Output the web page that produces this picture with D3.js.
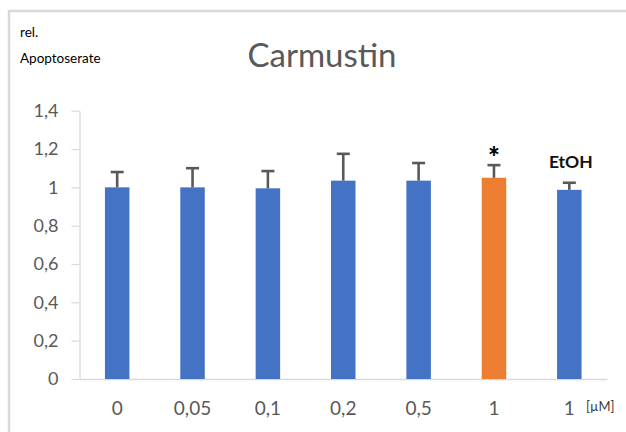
<!DOCTYPE html>
<html>
<head>
<meta charset="utf-8">
<script src="https://cdn.jsdelivr.net/npm/d3@7"></script>
<style>
  html, body { margin: 0; padding: 0; background: #ffffff; }
  svg { display: block; }
</style>
</head>
<body>
<svg id="chart" width="626" height="432"></svg>
<script>
// ---- data ----
const categories = ["0", "0,05", "0,1", "0,2", "0,5", "1", "1"];
const values     = [1.00, 1.00, 0.995, 1.035, 1.035, 1.05, 0.987];
const errors     = [0.08, 0.10, 0.09, 0.14, 0.092, 0.066, 0.037];
const highlight  = [false, false, false, false, false, true, false];
const yTicks     = [0, 0.2, 0.4, 0.6, 0.8, 1.0, 1.2, 1.4];
const title      = "Carmustin";
const unitLabel  = "[µM]";
const star       = { index: 5, text: "*" };
const ethanol    = { index: 6, text: "EtOH" };

// ---- layout ----
const svg = d3.select("#chart");
const font = "Lato, 'Open Sans', sans-serif";
const grey = "#595959";

// outer frame (cut off at right/bottom like the screenshot)
svg.append("rect")
  .attr("x", 9).attr("y", 11).attr("width", 700).attr("height", 500)
  .attr("fill", "none").attr("stroke", "#d9d9d9").attr("stroke-width", 2.5);

const x = d3.scaleBand()
  .domain(d3.range(categories.length))
  .range([79.5, 607])
  .paddingInner(0.675)
  .paddingOuter(0.3375);

const y = d3.scaleLinear().domain([0, 1.4]).range([379, 110.7]);

const locale = d3.formatLocale({ decimal: ",", thousands: ".", grouping: [3], currency: ["", "€"] });
const fmt = locale.format(".1~f");

// y axis
const yAxis = svg.append("g")
  .attr("transform", "translate(79.5,0)")
  .call(d3.axisLeft(y).tickValues(yTicks).tickFormat(fmt).tickSizeInner(8).tickSizeOuter(0).tickPadding(13));
yAxis.select(".domain").attr("stroke", "#d9d9d9").attr("stroke-width", 1.2);
yAxis.selectAll(".tick line").attr("stroke", "#d9d9d9").attr("stroke-width", 1.2);
yAxis.selectAll(".tick text")
  .attr("fill", grey).style("font-family", font).style("font-size", "18px");

// x axis
const xAxis = svg.append("g")
  .attr("transform", "translate(0,379)")
  .call(d3.axisBottom(x).tickFormat(i => categories[i]).tickSize(0).tickPadding(23));
xAxis.select(".domain").attr("stroke", "#d9d9d9").attr("stroke-width", 1.5);
xAxis.selectAll(".tick text")
  .attr("fill", grey).style("font-family", font).style("font-size", "19px");

// bars
svg.append("g").selectAll("rect")
  .data(values)
  .join("rect")
  .attr("x", (d, i) => x(i))
  .attr("y", d => y(d))
  .attr("width", x.bandwidth())
  .attr("height", d => y(0) - y(d))
  .attr("fill", (d, i) => highlight[i] ? "#ED7D31" : "#4472C4");

// error bars (upper only)
const eb = svg.append("g").attr("stroke", grey).attr("stroke-width", 2.6).attr("fill", "none");
values.forEach((v, i) => {
  const cx = x(i) + x.bandwidth() / 2;
  eb.append("line").attr("x1", cx).attr("x2", cx).attr("y1", y(v)).attr("y2", y(v + errors[i]));
  eb.append("line").attr("x1", cx - 6.5).attr("x2", cx + 6.5)
    .attr("y1", y(v + errors[i])).attr("y2", y(v + errors[i]));
});

// annotations
const sx = x(star.index) + x.bandwidth() / 2;
svg.append("text")
  .attr("x", sx).attr("y", y(values[star.index] + errors[star.index]) + 2)
  .attr("text-anchor", "middle")
  .style("font-family", font).style("font-weight", "900").style("font-size", "28px")
  .attr("fill", "#000").text(star.text);

const ex = x(ethanol.index) + x.bandwidth() / 2 + 1.5;
svg.append("text")
  .attr("x", ex).attr("y", 168)
  .attr("text-anchor", "middle")
  .style("font-family", font).style("font-weight", "bold").style("font-size", "17.5px")
  .attr("fill", "#111").text(ethanol.text);

// unit label
svg.append("text")
  .attr("x", 586).attr("y", 411)
  .style("font-family", "'Liberation Sans Narrow', 'Arial Narrow', " + font).style("font-size", "13px")
  .attr("fill", "#404040").text(unitLabel);

// title
svg.append("text")
  .attr("x", 322).attr("y", 67)
  .attr("text-anchor", "middle")
  .style("font-family", font).style("font-size", "33px")
  .attr("fill", grey).text(title);

// y axis title (two lines)
svg.append("text")
  .attr("x", 20).attr("y", 37)
  .style("font-family", "'Liberation Sans Narrow', 'Arial Narrow', " + font).style("font-size", "13.5px")
  .attr("fill", "#000").text("rel.");
svg.append("text")
  .attr("x", 20).attr("y", 63)
  .style("font-family", "'Liberation Sans Narrow', 'Arial Narrow', " + font).style("font-size", "13.5px")
  .attr("fill", "#000").text("Apoptoserate");
</script>
</body>
</html>
